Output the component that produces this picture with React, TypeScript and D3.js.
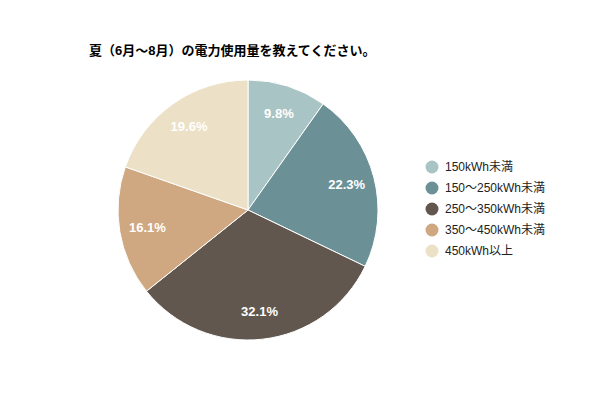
import * as d3 from "d3";

const categories = ["150kWh未満", "150～250kWh未満", "250～350kWh未満", "350～450kWh未満", "450kWh以上"];
const values = [9.8, 22.3, 32.1, 16.1, 19.6];
const colors = ["#a9c4c4", "#6b9197", "#62574e", "#cfa882", "#ece0c6"];

const title = "夏（6月～8月）の電力使用量を教えてください。";
const font = "'Liberation Sans', Arial, 'Noto Sans CJK JP', sans-serif";

const width = 600;
const height = 400;
const cx = 248;
const cy = 210;
const radius = 130;

const App = () => {
  const pie = d3.pie<number>().sort(null).value((d) => d);
  const arcs = pie(values);
  const arc = d3.arc<d3.PieArcDatum<number>>().innerRadius(0).outerRadius(radius);
  const labelArc = d3.arc<d3.PieArcDatum<number>>().innerRadius(102).outerRadius(102);

  const legendY = d3.scaleLinear().domain([0, 1]).range([167, 188]);

  return (
    <svg width={width} height={height} style={{ position: "absolute", left: 0, top: 0 }}>
      <rect width={width} height={height} fill="#ffffff" />
      <text x={89} y={55} fontFamily={font} fontSize={13} fontWeight="bold" fill="#000">
        {title}
      </text>
      <g transform={`translate(${cx},${cy})`}>
        {arcs.map((a, i) => (
          <path key={i} d={arc(a) ?? ""} fill={colors[i]} stroke="#ffffff" strokeWidth={1} />
        ))}
        {arcs.map((a, i) => {
          const [x, y] = labelArc.centroid(a);
          return (
            <text
              key={i}
              x={x}
              y={y}
              dy="0.36em"
              textAnchor="middle"
              fontFamily={font}
              fontSize={13}
              fontWeight="bold"
              fill="#ffffff"
            >
              {values[i].toFixed(1)}%
            </text>
          );
        })}
      </g>
      <g>
        {categories.map((c, i) => (
          <g key={c} transform={`translate(432,${legendY(i)})`}>
            <circle r={6.5} fill={colors[i]} />
            <text x={13} dy="0.36em" fontFamily={font} fontSize={12} fill="#222222">
              {c}
            </text>
          </g>
        ))}
      </g>
    </svg>
  );
};

export default App;
